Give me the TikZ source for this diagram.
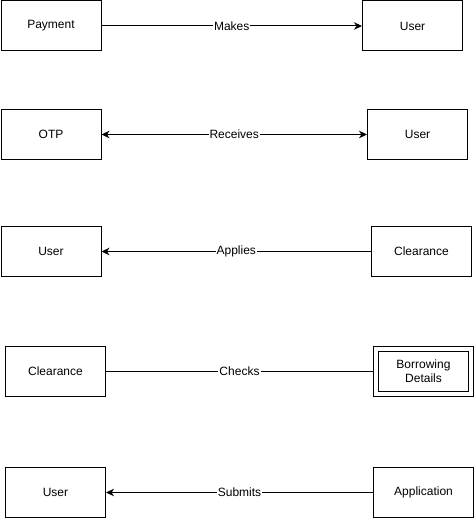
\documentclass[tikz,border=0pt]{standalone}
\usepackage{fontspec}
\setmainfont{Liberation Sans}
\usetikzlibrary{arrows.meta}
\tikzset{
  ent/.style={draw=black, line width=1pt, minimum width=100pt, minimum height=50pt, inner sep=0pt, font=\fontsize{12}{14}\selectfont, align=center, anchor=north west},
  conn/.style={draw=black, line width=1pt},
  tip/.style={-{Stealth[length=8pt,width=7.5pt,inset=2.5pt]}},
  lbl/.style={fill=white, inner sep=1pt, font=\fontsize{12}{14}\selectfont}
}
\begin{document}
\begin{tikzpicture}[x=1pt,y=-1pt]
\useasboundingbox (0,0) rectangle (475,519);
% row 1
\node[ent] (pay) at (0.5,0.5) {Payment};
\node[ent] (u1) at (362,0.5) {User};
\draw[conn,tip] (pay) -- node[lbl] {Makes} (u1);
% row 2
\node[ent] (otp) at (0.5,109) {OTP};
\node[ent] (u2) at (367,109) {User};
\draw[conn,{Stealth[length=8pt,width=7.5pt,inset=2.5pt]}-{Stealth[length=8pt,width=7.5pt,inset=2.5pt]}] (otp) -- node[lbl] {Receives} (u2);
% row 3
\node[ent] (u3) at (0.5,226) {User};
\node[ent] (cl1) at (371,226) {Clearance};
\draw[conn,tip] (cl1) -- node[lbl] {Applies} (u3);
% row 4
\node[ent] (cl2) at (5,346) {Clearance};
\node[ent] (bd) at (373,346) {};
\node[draw=black, line width=1pt, minimum width=90pt, minimum height=40pt, inner sep=0pt, font=\fontsize{12}{14}\selectfont, align=center] (bdi) at (bd.center) {Borrowing\\Details};
\draw[conn] (cl2) -- node[lbl] {Checks} (bd);
% row 5
\node[ent] (u5) at (5,467) {User};
\node[ent] (app) at (373,467) {Application};
\draw[conn,tip] (app) -- node[lbl] {Submits} (u5);
\end{tikzpicture}
\end{document}
